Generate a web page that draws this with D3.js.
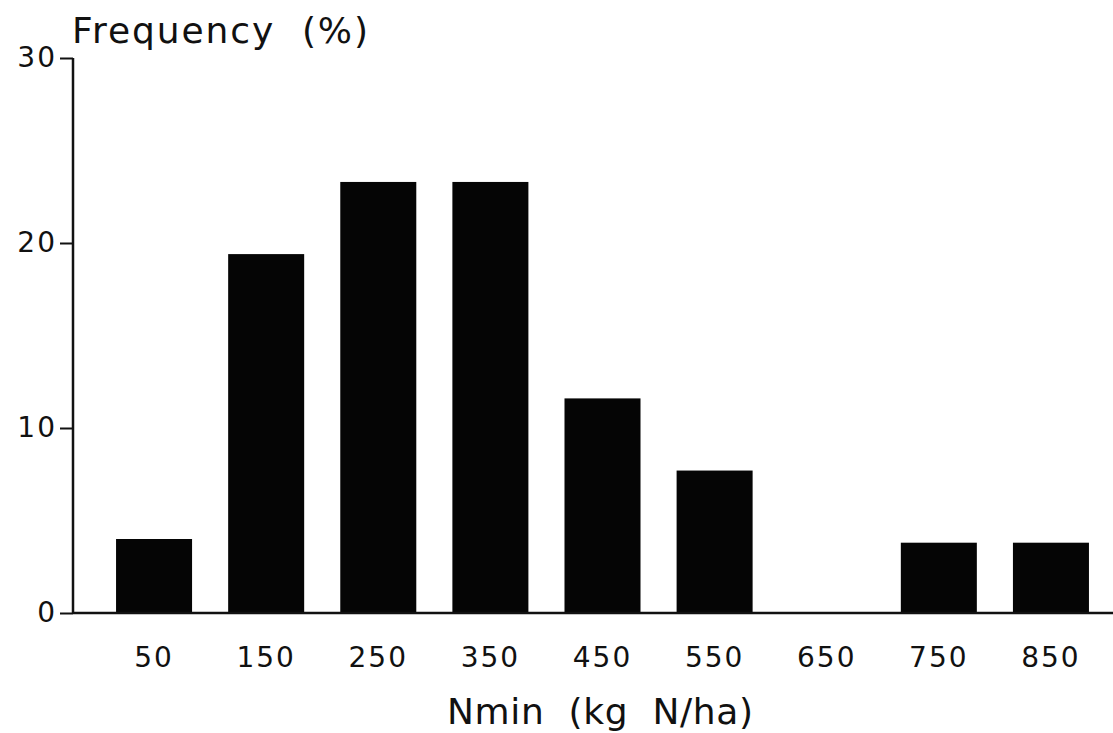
<!DOCTYPE html>
<html>
<head>
<meta charset="utf-8">
<script src="https://cdn.jsdelivr.net/npm/d3@7"></script>
<style>
  html, body { margin: 0; padding: 0; background: #fff; }
  svg text { font-family: "DejaVu Sans", sans-serif; fill: #111; white-space: pre; }
</style>
</head>
<body>
<div id="chart"></div>
<script>
// Nmin classes (kg N/ha) and frequency (%)
var classes = ["50", "150", "250", "350", "450", "550", "650", "750", "850"];
var frequency = [4.0, 19.4, 23.3, 23.3, 11.6, 7.7, 0, 3.8, 3.8];
var yTicks = [0, 10, 20, 30];

var width = 1113, height = 733;

var svg = d3.select("#chart").append("svg")
  .attr("width", width)
  .attr("height", height);

var x = d3.scaleBand()
  .domain(classes)
  .range([98, 1107])
  .paddingInner(0.322)
  .paddingOuter(0.161);

var y = d3.scaleLinear()
  .domain([0, 30])
  .range([613, 58]);

var axisX = 73;

// bars
svg.selectAll("rect.bar")
  .data(frequency)
  .enter()
  .append("rect")
    .attr("class", "bar")
    .attr("x", function (d, i) { return x(classes[i]); })
    .attr("y", function (d) { return y(d); })
    .attr("width", x.bandwidth())
    .attr("height", function (d) { return y(0) - y(d); })
    .attr("fill", "#050505");

// y axis
var gy = svg.append("g")
  .attr("transform", "translate(" + axisX + ",0)")
  .call(d3.axisLeft(y).tickValues(yTicks).tickSize(13).tickPadding(3).tickFormat(d3.format("d")));
gy.select(".domain").attr("stroke", "#111").attr("stroke-width", 2.5).attr("d", "M0," + y(30) + "V" + y(0));
gy.selectAll(".tick line").attr("stroke", "#111").attr("stroke-width", 2);
gy.selectAll(".tick text")
  .style("font-size", "28px")
  .style("letter-spacing", "2px")
  .attr("fill", "#111");

// x axis
var gx = svg.append("g")
  .attr("transform", "translate(0," + y(0) + ")")
  .call(d3.axisBottom(x).tickSize(0).tickPadding(0));
gx.select(".domain").attr("stroke", "#111").attr("stroke-width", 2.5).attr("d", "M" + axisX + ",0H" + width);
gx.selectAll(".tick text")
  .attr("y", 54)
  .attr("dy", 0)
  .style("font-size", "28px")
  .style("letter-spacing", "2px")
  .attr("fill", "#111");

// titles
svg.append("text")
  .attr("x", 72)
  .attr("y", 43)
  .attr("textLength", 296)
  .attr("lengthAdjust", "spacing")
  .style("font-size", "36px")
  .text("Frequency  (%)");

svg.append("text")
  .attr("x", 447)
  .attr("y", 724)
  .attr("textLength", 306)
  .attr("lengthAdjust", "spacing")
  .style("font-size", "36px")
  .text("Nmin  (kg  N/ha)");
</script>
</body>
</html>
